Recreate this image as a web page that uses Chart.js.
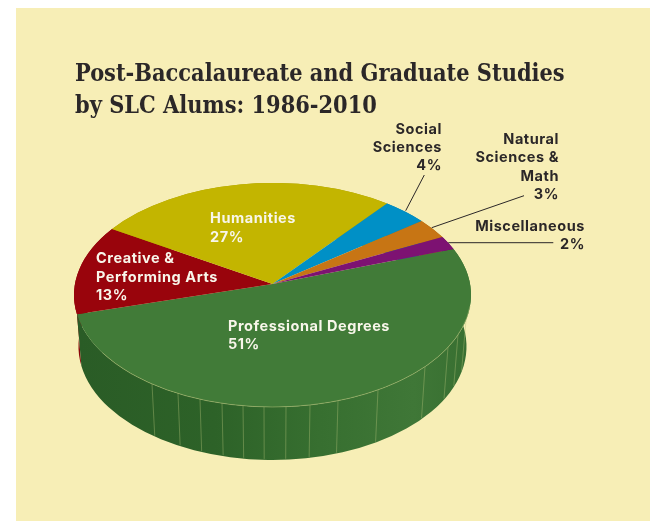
<!DOCTYPE html>
<html>
<head>
<meta charset="utf-8">
<title>Post-Baccalaureate and Graduate Studies</title>
<script src="https://cdn.jsdelivr.net/npm/chart.js@4"></script>
<style>
  html, body { margin: 0; background: #fff; }
  canvas { display: block; }
</style>
</head>
<body>
<canvas id="pie" width="654" height="521"></canvas>
<script>
const categories = ['Professional Degrees', 'Creative & Performing Arts', 'Humanities', 'Social Sciences', 'Natural Sciences & Math', 'Miscellaneous'];
const shares = [51, 13, 27, 4, 3, 2];
const sliceColors = ['#417b38', '#99040c', '#c3b500', '#0090c6', '#c77514', '#7d1272'];
const wallColors = ['#2f662b', '#8a0409', '#a89c00', '#007aa8', '#a86210', '#690e60'];
const titleLines = ['Post-Baccalaureate and Graduate Studies', 'by SLC Alums: 1986-2010'];

// the top of the pie, its lower rim, and how far the apex sits above the ellipse centre
const topRim = { x: 272.5, y: 295, rx: 198.5, ry: 112 };
const lowRim = { x: 272.5, y: 346.5, rx: 194, ry: 113.5 };
const apexShift = 0.098;

// x where the thin facet lines leave the top rim
const seams = [152, 178, 200, 222, 243, 264, 286, 310, 338, 378, 425, 448, 458, 466];

// slice angle to ellipse angle, a circle seen in perspective
function rimAngle(a) {
    const u = Math.cos(a), v = Math.sin(a);
    const w = 1 - apexShift * v;
    const y = (v - apexShift) / w;
    const x = u * Math.sqrt(1 - apexShift * apexShift) / w;
    return Math.atan2(y, x);
}

const labels3d = {
    id: 'labels3d',
    beforeDraw(chart) {
        const ctx = chart.ctx;
        ctx.save();
        ctx.fillStyle = '#f7eeb6';
        ctx.fillRect(16, 8, 634, 513);
        ctx.restore();
    },
    beforeDatasetDraw(chart) {
        const ctx = chart.ctx;
        const arcs = chart.getDatasetMeta(0).data;
        const apexY = topRim.y - apexShift * topRim.ry;

        const green = ctx.createLinearGradient(78, 0, 468, 0);
        green.addColorStop(0, '#2a5c26');
        green.addColorStop(0.35, '#2d6228');
        green.addColorStop(0.62, '#376f30');
        green.addColorStop(0.86, '#3f7737');
        green.addColorStop(1, '#386f31');

        ctx.save();
        // walls, back slices first
        for (let i = arcs.length - 1; i >= 0; i--) {
            const a0 = rimAngle(arcs[i].startAngle), a1 = rimAngle(arcs[i].endAngle);
            ctx.beginPath();
            ctx.ellipse(topRim.x, topRim.y, topRim.rx, topRim.ry, 0, a0, a1);
            ctx.ellipse(lowRim.x, lowRim.y, lowRim.rx, lowRim.ry, 0, a1, a0, true);
            ctx.closePath();
            ctx.fillStyle = i === 0 ? green : wallColors[i];
            ctx.fill();
        }
        // facet lines on the front wall
        ctx.strokeStyle = 'rgba(178,192,120,0.5)';
        ctx.lineWidth = 0.8;
        seams.forEach(x => {
            const c = (x - topRim.x) / topRim.rx;
            const s = Math.sqrt(1 - c * c);
            ctx.beginPath();
            ctx.moveTo(x, topRim.y + topRim.ry * s);
            ctx.lineTo(lowRim.x + lowRim.rx * c, lowRim.y + lowRim.ry * s - 1);
            ctx.stroke();
        });
        // top faces
        arcs.forEach((arc, i) => {
            ctx.beginPath();
            ctx.moveTo(topRim.x, apexY);
            ctx.ellipse(topRim.x, topRim.y, topRim.rx, topRim.ry, 0, rimAngle(arc.startAngle), rimAngle(arc.endAngle));
            ctx.closePath();
            ctx.fillStyle = sliceColors[i];
            ctx.fill();
        });
        // pale highlight along the front rim
        ctx.beginPath();
        ctx.ellipse(topRim.x, topRim.y, topRim.rx, topRim.ry, 0, 0.1, 2.6);
        ctx.strokeStyle = 'rgba(178,192,120,0.65)';
        ctx.lineWidth = 0.8;
        ctx.stroke();
        ctx.restore();
        return false;
    },
    afterDatasetsDraw(chart) {
        const ctx = chart.ctx;
        ctx.save();
        // leader lines
        ctx.strokeStyle = '#2b2728';
        ctx.lineWidth = 1;
        [[424.3, 175, 405.7, 210.7], [524, 195.7, 431.7, 227.7], [553.3, 242.7, 448.3, 242.7]].forEach(l => {
            ctx.beginPath();
            ctx.moveTo(l[0], l[1]);
            ctx.lineTo(l[2], l[3]);
            ctx.stroke();
        });
        ctx.font = '700 14.5px Inter';
        ctx.letterSpacing = '0.55px';
        const pct = i => shares[i] + '%';
        const block = (lines, x, y, step, align, color) => {
            ctx.textAlign = align;
            ctx.fillStyle = color;
            lines.forEach((t, n) => ctx.fillText(t, x, y + n * step));
        };
        block([categories[0], pct(0)], 228, 331, 18, 'left', '#f8f6ea');
        block(['Creative &', 'Performing Arts', pct(1)], 96, 263, 18.5, 'left', '#f8f6ea');
        block([categories[2], pct(2)], 210, 223, 19, 'left', '#f8f6ea');
        block(['Social', 'Sciences', pct(3)], 442, 134, 18, 'right', '#2b2728');
        block(['Natural', 'Sciences &', 'Math', pct(4)], 559, 144, 18.3, 'right', '#2b2728');
        block([categories[5], pct(5)], 585, 231, 17.5, 'right', '#2b2728');
        ctx.restore();
    }
};

new Chart(document.getElementById('pie'), {
    type: 'pie',
    data: {
        labels: categories,
        datasets: [{ data: shares, backgroundColor: sliceColors, borderWidth: 0 }],
    },
    options: {
        responsive: false,
        animation: false,
        rotation: 71,
        layout: { padding: { left: 75, top: 59 } },
        plugins: {
            legend: { display: false },
            tooltip: { enabled: false },
            title: {
                display: true,
                text: titleLines,
                align: 'start',
                color: '#2b2728',
                padding: 0,
                font: { family: '"DejaVu Serif Condensed", "DejaVu Serif"', weight: 'bold', size: 23.3, lineHeight: 1.38 },
            },
        },
    },
    plugins: [labels3d],
});
</script>
</body>
</html>
